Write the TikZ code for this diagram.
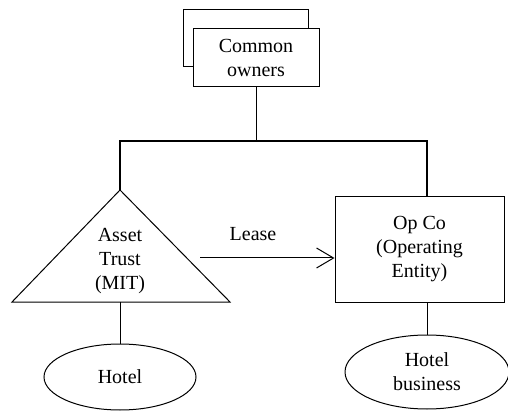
\documentclass[tikz,border=0pt]{standalone}
\usepackage{fontspec}
\setmainfont{Liberation Serif}
\usetikzlibrary{shapes.geometric,arrows.meta}
\begin{document}
\begin{tikzpicture}[x=1pt,y=-1pt]
    \useasboundingbox (0,0) rectangle (508,411);
    \begin{scope}[line width=1pt,font=\fontsize{20}{24}\selectfont]

    % common owners, two stacked boxes
    \draw [fill=white] (183,10) rectangle (308,67);
    \node (own) [draw, fill=white, minimum width=126pt, minimum height=58pt, align=center] at (256,58) {Common\\owners};

    % asset trust
    \coordinate (mitTop)  at (120,190);
    \coordinate (mitBase) at (120,302);
    \draw (12,302) -- (mitTop) -- (230,302) -- cycle;
    \node (mit) [align=center] at (120,261) {Asset\\Trust\\(MIT)};

    % operating entity
    \node (opco) [draw, minimum width=169pt, minimum height=105pt, align=center] at (419.5,249.5) {Op Co\\(Operating\\Entity)};

    % ownership bar
    \coordinate (bar) at (256,141);
    \draw (own) -- (bar);
    \draw [line width=2.6pt] (mitTop) |- (bar) -| ([xshift=7.5pt]opco.north);

    % lease
    \coordinate (lease) at (200,258);
    \draw [-{Straight Barb[length=17pt,width=20pt]}] (lease) -- (lease -| opco.west);
    \node (lbl) at (253,234) {Lease};

    % assets below
    \node (hotel) [draw, ellipse, minimum width=152pt, minimum height=66pt] at (120,377) {Hotel};
    \node (biz) [draw, ellipse, minimum width=164pt, minimum height=74pt, align=center] at (427,372) {Hotel\\business};
    \draw (mitBase) -- (hotel);
    \draw (opco.south -| biz) -- (biz);
\end{scope}
\end{tikzpicture}
\end{document}
